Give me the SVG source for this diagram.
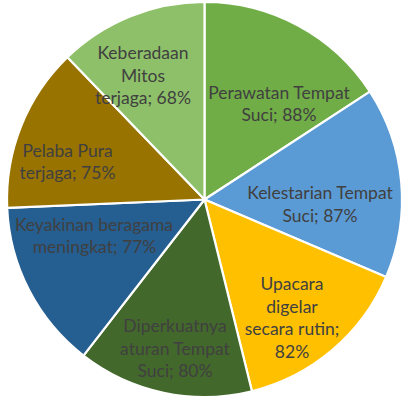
<svg xmlns="http://www.w3.org/2000/svg" width="415" height="400" viewBox="0 0 415 400">
<style>
.s{stroke:#fff;stroke-width:2.2;stroke-linejoin:round}
.t{font-family:Lato,"Open Sans","Liberation Sans",sans-serif;font-size:17.5px;fill:#404040;text-anchor:middle}
</style>
<rect width="415" height="400" fill="#fff"/>
<g id="connectors"></g>
<g id="slice-perawatan">
<path class="s" fill="#70AD47" d="M204.5,199.5 L204.5,2 A197.5,197.5 0 0 1 369.9,91.58 Z"/>
<text class="t" x="279" y="99">Perawatan Tempat</text>
<text class="t" x="279" y="121">Suci; 88%</text>
</g>
<g id="slice-kelestarian">
<path class="s" fill="#5B9BD5" d="M204.5,199.5 L369.9,91.58 A197.5,197.5 0 0 1 386.16,277 Z"/>
<text class="t" x="320" y="199">Kelestarian Tempat</text>
<text class="t" x="320" y="221.5">Suci; 87%</text>
</g>
<g id="slice-upacara">
<path class="s" fill="#FFC000" d="M204.5,199.5 L386.16,277 A197.5,197.5 0 0 1 251.94,391.22 Z"/>
<text class="t" x="292" y="290">Upacara</text>
<text class="t" x="292" y="312.5">digelar</text>
<text class="t" x="292" y="335">secara rutin;</text>
<text class="t" x="292" y="357.5">82%</text>
</g>
<g id="slice-diperkuatnya">
<path class="s" fill="#43682B" d="M204.5,199.5 L251.94,391.22 A197.5,197.5 0 0 1 83.44,355.55 Z"/>
<text class="t" x="175" y="332">Diperkuatnya</text>
<text class="t" x="175" y="354.5">aturan Tempat</text>
<text class="t" x="175" y="377">Suci; 80%</text>
</g>
<g id="slice-keyakinan">
<path class="s" fill="#255E91" d="M204.5,199.5 L83.44,355.55 A197.5,197.5 0 0 1 7.18,207.85 Z"/>
<text class="t" x="94" y="230.5">Keyakinan beragama</text>
<text class="t" x="94.5" y="253">meningkat; 77%</text>
</g>
<g id="slice-pelaba">
<path class="s" fill="#997300" d="M204.5,199.5 L7.18,207.85 A197.5,197.5 0 0 1 67.43,57.31 Z"/>
<text class="t" x="67.5" y="156.5">Pelaba Pura</text>
<text class="t" x="67.5" y="178.5">terjaga; 75%</text>
</g>
<g id="slice-keberadaan">
<path class="s" fill="#8DC068" d="M204.5,199.5 L67.43,57.31 A197.5,197.5 0 0 1 204.5,2 Z"/>
<text class="t" x="143" y="59">Keberadaan</text>
<text class="t" x="143" y="81.5">Mitos</text>
<text class="t" x="143" y="104">terjaga; 68%</text>
</g>
</svg>
